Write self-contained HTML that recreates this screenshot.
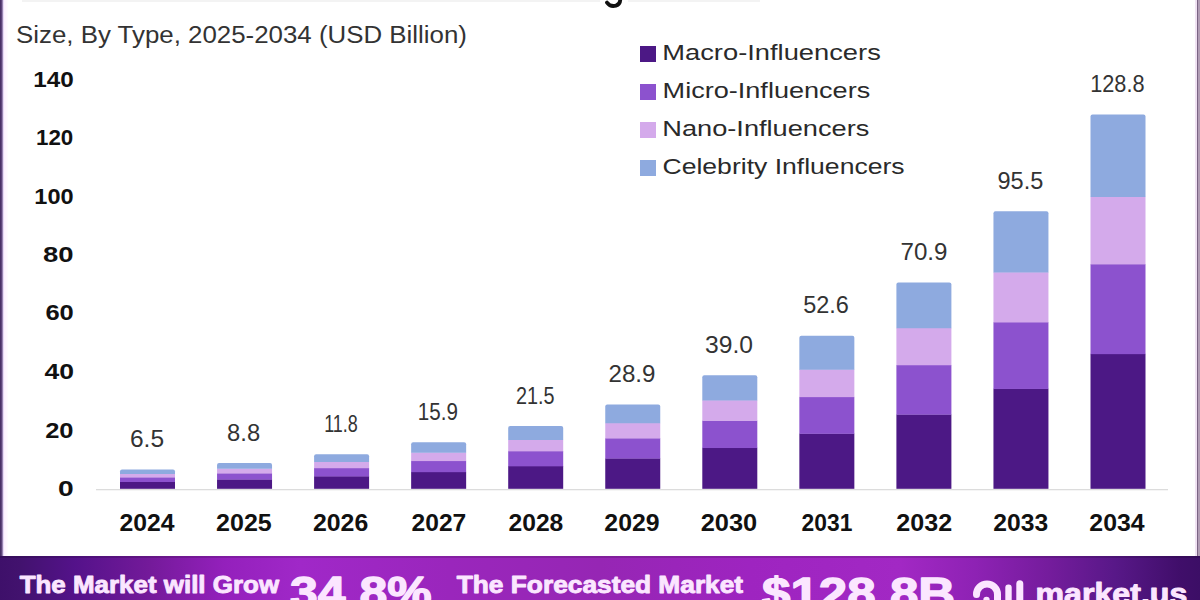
<!DOCTYPE html>
<html><head><meta charset="utf-8"><title>Influencer Marketing Market</title>
<style>
html,body{margin:0;padding:0;background:#fff;}
body{width:1200px;height:600px;position:relative;overflow:hidden;font-family:"Liberation Sans",sans-serif;}
svg text{font-family:"Liberation Sans",sans-serif;}
</style></head><body>
<svg width="1200" height="600" viewBox="0 0 1200 600" style="position:absolute;left:0;top:0">
<defs>
<linearGradient id="bg" x1="0" y1="0" x2="1200" y2="0" gradientUnits="userSpaceOnUse">
<stop offset="0.0000" stop-color="#3e106a"/>
<stop offset="0.0167" stop-color="#42126e"/>
<stop offset="0.0625" stop-color="#54128a"/>
<stop offset="0.1250" stop-color="#741a9a"/>
<stop offset="0.1875" stop-color="#9420bc"/>
<stop offset="0.2500" stop-color="#a028c8"/>
<stop offset="0.3750" stop-color="#9a26bc"/>
<stop offset="0.5000" stop-color="#9626b4"/>
<stop offset="0.6250" stop-color="#9e24c0"/>
<stop offset="0.7500" stop-color="#a228c4"/>
<stop offset="0.8125" stop-color="#8e22b4"/>
<stop offset="0.8750" stop-color="#741c9c"/>
<stop offset="0.9292" stop-color="#581888"/>
<stop offset="0.9833" stop-color="#400e6a"/>
<stop offset="1.0000" stop-color="#3c0e66"/>
</linearGradient>
<linearGradient id="lbg" x1="0" y1="0" x2="8" y2="0" gradientUnits="userSpaceOnUse">
<stop offset="0" stop-color="#4a3068"/>
<stop offset="0.14" stop-color="#4a3068"/>
<stop offset="0.3" stop-color="#8e78a8"/>
<stop offset="0.42" stop-color="#e4d4f4"/>
<stop offset="0.55" stop-color="#fdf2ff"/>
<stop offset="1" stop-color="#fffcff"/>
</linearGradient>
</defs>
<rect x="0" y="0" width="1200" height="600" fill="#fff"/>
<rect x="22" y="0" width="578" height="2" fill="#f3f3f3"/>
<rect x="628" y="0" width="132" height="2" fill="#f3f3f3"/>
<path d="M607 2.6 C609.5 6 613 6.4 616 5.6 C619.5 4.6 620.3 2.5 620.3 -1" fill="none" stroke="#111" stroke-width="3.8" stroke-linecap="round"/>
<rect x="96" y="489" width="1072" height="1.3" fill="#dcdcdc"/>
<rect x="120.00" y="481.70" width="55" height="7.10" fill="#4c1885"/>
<rect x="120.00" y="477.17" width="55" height="4.83" fill="#8c52ce"/>
<rect x="120.00" y="473.78" width="55" height="3.70" fill="#d4aaeb"/>
<path d="M120.00 474.08 L120.00 471.62 Q120.00 469.62 122.00 469.62 L173.00 469.62 Q175.00 469.62 175.00 471.62 L175.00 474.08 Z" fill="#8eaadf"/>
<rect x="217.05" y="479.30" width="55" height="9.50" fill="#4c1885"/>
<rect x="217.05" y="473.17" width="55" height="6.43" fill="#8c52ce"/>
<rect x="217.05" y="468.57" width="55" height="4.90" fill="#d4aaeb"/>
<path d="M217.05 468.87 L217.05 464.94 Q217.05 462.94 219.05 462.94 L270.05 462.94 Q272.05 462.94 272.05 464.94 L272.05 468.87 Z" fill="#8eaadf"/>
<rect x="314.10" y="476.16" width="55" height="12.64" fill="#4c1885"/>
<rect x="314.10" y="467.94" width="55" height="8.52" fill="#8c52ce"/>
<rect x="314.10" y="461.77" width="55" height="6.47" fill="#d4aaeb"/>
<path d="M314.10 462.07 L314.10 456.23 Q314.10 454.23 316.10 454.23 L367.10 454.23 Q369.10 454.23 369.10 456.23 L369.10 462.07 Z" fill="#8eaadf"/>
<rect x="411.15" y="471.88" width="55" height="16.92" fill="#4c1885"/>
<rect x="411.15" y="460.80" width="55" height="11.38" fill="#8c52ce"/>
<rect x="411.15" y="452.48" width="55" height="8.61" fill="#d4aaeb"/>
<path d="M411.15 452.78 L411.15 444.33 Q411.15 442.33 413.15 442.33 L464.15 442.33 Q466.15 442.33 466.15 444.33 L466.15 452.78 Z" fill="#8eaadf"/>
<rect x="508.20" y="466.02" width="55" height="22.78" fill="#4c1885"/>
<rect x="508.20" y="451.04" width="55" height="15.28" fill="#8c52ce"/>
<rect x="508.20" y="439.80" width="55" height="11.54" fill="#d4aaeb"/>
<path d="M508.20 440.10 L508.20 428.06 Q508.20 426.06 510.20 426.06 L561.20 426.06 Q563.20 426.06 563.20 428.06 L563.20 440.10 Z" fill="#8eaadf"/>
<rect x="605.25" y="458.29" width="55" height="30.51" fill="#4c1885"/>
<rect x="605.25" y="438.14" width="55" height="20.44" fill="#8c52ce"/>
<rect x="605.25" y="423.04" width="55" height="15.41" fill="#d4aaeb"/>
<path d="M605.25 423.34 L605.25 406.57 Q605.25 404.57 607.25 404.57 L658.25 404.57 Q660.25 404.57 660.25 406.57 L660.25 423.34 Z" fill="#8eaadf"/>
<rect x="702.30" y="447.73" width="55" height="41.07" fill="#4c1885"/>
<rect x="702.30" y="420.55" width="55" height="27.48" fill="#8c52ce"/>
<rect x="702.30" y="400.16" width="55" height="20.69" fill="#d4aaeb"/>
<path d="M702.30 400.46 L702.30 377.24 Q702.30 375.24 704.30 375.24 L755.30 375.24 Q757.30 375.24 757.30 377.24 L757.30 400.46 Z" fill="#8eaadf"/>
<rect x="799.35" y="433.51" width="55" height="55.29" fill="#4c1885"/>
<rect x="799.35" y="396.85" width="55" height="36.96" fill="#8c52ce"/>
<rect x="799.35" y="369.35" width="55" height="27.80" fill="#d4aaeb"/>
<path d="M799.35 369.65 L799.35 337.75 Q799.35 335.75 801.35 335.75 L852.35 335.75 Q854.35 335.75 854.35 337.75 L854.35 369.65 Z" fill="#8eaadf"/>
<rect x="896.40" y="414.38" width="55" height="74.42" fill="#4c1885"/>
<rect x="896.40" y="364.96" width="55" height="49.71" fill="#8c52ce"/>
<rect x="896.40" y="327.90" width="55" height="37.36" fill="#d4aaeb"/>
<path d="M896.40 328.20 L896.40 284.61 Q896.40 282.61 898.40 282.61 L949.40 282.61 Q951.40 282.61 951.40 284.61 L951.40 328.20 Z" fill="#8eaadf"/>
<rect x="993.45" y="388.66" width="55" height="100.14" fill="#4c1885"/>
<rect x="993.45" y="322.10" width="55" height="66.86" fill="#8c52ce"/>
<rect x="993.45" y="272.18" width="55" height="50.22" fill="#d4aaeb"/>
<path d="M993.45 272.48 L993.45 213.17 Q993.45 211.17 995.45 211.17 L1046.45 211.17 Q1048.45 211.17 1048.45 213.17 L1048.45 272.48 Z" fill="#8eaadf"/>
<rect x="1090.50" y="353.85" width="55" height="134.95" fill="#4c1885"/>
<rect x="1090.50" y="264.08" width="55" height="90.07" fill="#8c52ce"/>
<rect x="1090.50" y="196.75" width="55" height="67.63" fill="#d4aaeb"/>
<path d="M1090.50 197.05 L1090.50 116.46 Q1090.50 114.46 1092.50 114.46 L1143.50 114.46 Q1145.50 114.46 1145.50 116.46 L1145.50 197.05 Z" fill="#8eaadf"/>
<rect x="640" y="46" width="16" height="16" fill="#4c1885"/><rect x="640" y="84" width="16" height="16" fill="#8c52ce"/><rect x="640" y="122" width="16" height="16" fill="#d4aaeb"/><rect x="640" y="160" width="16" height="16" fill="#8eaadf"/>
<text id="sub" x="16.00" y="43.30" font-size="23.5" font-weight="normal" fill="#333" text-anchor="start" textLength="450.99" lengthAdjust="spacingAndGlyphs">Size, By Type, 2025-2034 (USD Billion)</text>
<text id="lg0" x="662.25" y="60.10" font-size="22" font-weight="normal" fill="#2a2a2a" text-anchor="start" textLength="218.58" lengthAdjust="spacingAndGlyphs">Macro-Influencers</text>
<text id="lg1" x="662.62" y="98.30" font-size="22" font-weight="normal" fill="#2a2a2a" text-anchor="start" textLength="207.62" lengthAdjust="spacingAndGlyphs">Micro-Influencers</text>
<text id="lg2" x="662.25" y="136.40" font-size="22" font-weight="normal" fill="#2a2a2a" text-anchor="start" textLength="207.15" lengthAdjust="spacingAndGlyphs">Nano-Influencers</text>
<text id="lg3" x="662.50" y="174.30" font-size="22" font-weight="normal" fill="#2a2a2a" text-anchor="start" textLength="242.08" lengthAdjust="spacingAndGlyphs">Celebrity Influencers</text>
<text id="dl0" x="147.00" y="447.22" font-size="23" font-weight="normal" fill="#333" text-anchor="middle" textLength="34.12" lengthAdjust="spacingAndGlyphs">6.5</text>
<text id="dl1" x="243.60" y="440.54" font-size="23" font-weight="normal" fill="#333" text-anchor="middle" textLength="33.06" lengthAdjust="spacingAndGlyphs">8.8</text>
<text id="dl2" x="341.00" y="431.83" font-size="23" font-weight="normal" fill="#333" text-anchor="middle" textLength="33.64" lengthAdjust="spacingAndGlyphs">11.8</text>
<text id="dl3" x="437.90" y="419.93" font-size="23" font-weight="normal" fill="#333" text-anchor="middle" textLength="40.09" lengthAdjust="spacingAndGlyphs">15.9</text>
<text id="dl4" x="535.30" y="403.66" font-size="23" font-weight="normal" fill="#333" text-anchor="middle" textLength="38.52" lengthAdjust="spacingAndGlyphs">21.5</text>
<text id="dl5" x="632.00" y="382.17" font-size="23" font-weight="normal" fill="#333" text-anchor="middle" textLength="46.92" lengthAdjust="spacingAndGlyphs">28.9</text>
<text id="dl6" x="729.00" y="352.84" font-size="23" font-weight="normal" fill="#333" text-anchor="middle" textLength="47.97" lengthAdjust="spacingAndGlyphs">39.0</text>
<text id="dl7" x="826.00" y="313.35" font-size="23" font-weight="normal" fill="#333" text-anchor="middle" textLength="45.68" lengthAdjust="spacingAndGlyphs">52.6</text>
<text id="dl8" x="924.00" y="260.21" font-size="23" font-weight="normal" fill="#333" text-anchor="middle" textLength="46.90" lengthAdjust="spacingAndGlyphs">70.9</text>
<text id="dl9" x="1020.40" y="188.77" font-size="23" font-weight="normal" fill="#333" text-anchor="middle" textLength="45.81" lengthAdjust="spacingAndGlyphs">95.5</text>
<text id="dl10" x="1117.40" y="92.06" font-size="23" font-weight="normal" fill="#333" text-anchor="middle" textLength="54.42" lengthAdjust="spacingAndGlyphs">128.8</text>
<text id="xl0" x="147.10" y="531.00" font-size="23" font-weight="bold" fill="#111" text-anchor="middle" textLength="55.07" lengthAdjust="spacingAndGlyphs">2024</text>
<text id="xl1" x="243.90" y="531.00" font-size="23" font-weight="bold" fill="#111" text-anchor="middle" textLength="55.68" lengthAdjust="spacingAndGlyphs">2025</text>
<text id="xl2" x="340.60" y="531.00" font-size="23" font-weight="bold" fill="#111" text-anchor="middle" textLength="55.29" lengthAdjust="spacingAndGlyphs">2026</text>
<text id="xl3" x="438.90" y="531.00" font-size="23" font-weight="bold" fill="#111" text-anchor="middle" textLength="54.72" lengthAdjust="spacingAndGlyphs">2027</text>
<text id="xl4" x="535.90" y="531.00" font-size="23" font-weight="bold" fill="#111" text-anchor="middle" textLength="54.86" lengthAdjust="spacingAndGlyphs">2028</text>
<text id="xl5" x="632.00" y="531.00" font-size="23" font-weight="bold" fill="#111" text-anchor="middle" textLength="55.29" lengthAdjust="spacingAndGlyphs">2029</text>
<text id="xl6" x="729.00" y="531.00" font-size="23" font-weight="bold" fill="#111" text-anchor="middle" textLength="56.50" lengthAdjust="spacingAndGlyphs">2030</text>
<text id="xl7" x="827.00" y="531.00" font-size="23" font-weight="bold" fill="#111" text-anchor="middle" textLength="50.78" lengthAdjust="spacingAndGlyphs">2031</text>
<text id="xl8" x="924.20" y="531.00" font-size="23" font-weight="bold" fill="#111" text-anchor="middle" textLength="55.78" lengthAdjust="spacingAndGlyphs">2032</text>
<text id="xl9" x="1020.80" y="531.00" font-size="23" font-weight="bold" fill="#111" text-anchor="middle" textLength="54.84" lengthAdjust="spacingAndGlyphs">2033</text>
<text id="xl10" x="1117.00" y="531.00" font-size="23" font-weight="bold" fill="#111" text-anchor="middle" textLength="55.27" lengthAdjust="spacingAndGlyphs">2034</text>
<text id="yl0" x="73.58" y="495.60" font-size="21.5" font-weight="bold" fill="#111" text-anchor="end" textLength="15.68" lengthAdjust="spacingAndGlyphs">0</text>
<text id="yl1" x="73.57" y="437.50" font-size="21.5" font-weight="bold" fill="#111" text-anchor="end" textLength="28.38" lengthAdjust="spacingAndGlyphs">20</text>
<text id="yl2" x="74.07" y="379.25" font-size="21.5" font-weight="bold" fill="#111" text-anchor="end" textLength="29.50" lengthAdjust="spacingAndGlyphs">40</text>
<text id="yl3" x="73.82" y="320.25" font-size="21.5" font-weight="bold" fill="#111" text-anchor="end" textLength="28.39" lengthAdjust="spacingAndGlyphs">60</text>
<text id="yl4" x="73.57" y="262.25" font-size="21.5" font-weight="bold" fill="#111" text-anchor="end" textLength="30.55" lengthAdjust="spacingAndGlyphs">80</text>
<text id="yl5" x="73.57" y="204.00" font-size="21.5" font-weight="bold" fill="#111" text-anchor="end" textLength="39.25" lengthAdjust="spacingAndGlyphs">100</text>
<text id="yl6" x="73.30" y="145.25" font-size="21.5" font-weight="bold" fill="#111" text-anchor="end" textLength="37.24" lengthAdjust="spacingAndGlyphs">120</text>
<text id="yl7" x="73.80" y="86.90" font-size="21.5" font-weight="bold" fill="#111" text-anchor="end" textLength="40.45" lengthAdjust="spacingAndGlyphs">140</text>
<rect x="0" y="0" width="8" height="556" fill="url(#lbg)"/>
<rect x="1195" y="0" width="2" height="556" fill="#f0e2f2"/>
<rect x="1197" y="0" width="1" height="556" fill="#7a6484"/>
<rect x="1198" y="0" width="2" height="556" fill="#b09cb4"/>
<rect x="0" y="556" width="1200" height="44" fill="url(#bg)"/>
<rect x="0" y="556" width="1200" height="2" fill="#000" fill-opacity="0.14"/>
<text id="b1" x="19.70" y="592.70" font-size="24" font-weight="bold" fill="#fbe6ff" text-anchor="start" textLength="259.37" lengthAdjust="spacingAndGlyphs" stroke="#fbe6ff" stroke-width="0.9" stroke-linejoin="round">The Market will Grow</text>
<text id="b2" x="290.00" y="607.50" font-size="45" font-weight="bold" fill="#fbe6ff" text-anchor="start" textLength="141.68" lengthAdjust="spacingAndGlyphs" stroke="#fbe6ff" stroke-width="1.4" stroke-linejoin="round">34.8%</text>
<text id="b3" x="456.75" y="593.00" font-size="24" font-weight="bold" fill="#fbe6ff" text-anchor="start" textLength="286.37" lengthAdjust="spacingAndGlyphs" stroke="#fbe6ff" stroke-width="0.9" stroke-linejoin="round">The Forecasted Market</text>
<text id="b4" x="762.00" y="609.00" font-size="45" font-weight="bold" fill="#fbe6ff" text-anchor="start" textLength="193.30" lengthAdjust="spacingAndGlyphs" stroke="#fbe6ff" stroke-width="1.4" stroke-linejoin="round">$128.8B</text>
<text id="b5" x="1035.50" y="603.50" font-size="30" font-weight="bold" fill="#fbe6ff" text-anchor="start" textLength="151.88" lengthAdjust="spacingAndGlyphs" stroke="#fbe6ff" stroke-width="1.0" stroke-linejoin="round">market.us</text>
<g fill="none" stroke="#fbe6ff" stroke-width="7" stroke-linecap="round">
<path d="M976.5 594.5 A10.5 10.5 0 0 1 997.5 594.5 L997.5 604"/>
</g>
<circle cx="986.5" cy="600" r="3.2" fill="#fbe6ff"/>
<rect x="1005.3" y="584.6" width="6.4" height="20" rx="3" fill="#fbe6ff"/>
<rect x="1016.3" y="580.2" width="7" height="24" rx="3.5" fill="#fbe6ff"/>
</svg>
</body></html>
